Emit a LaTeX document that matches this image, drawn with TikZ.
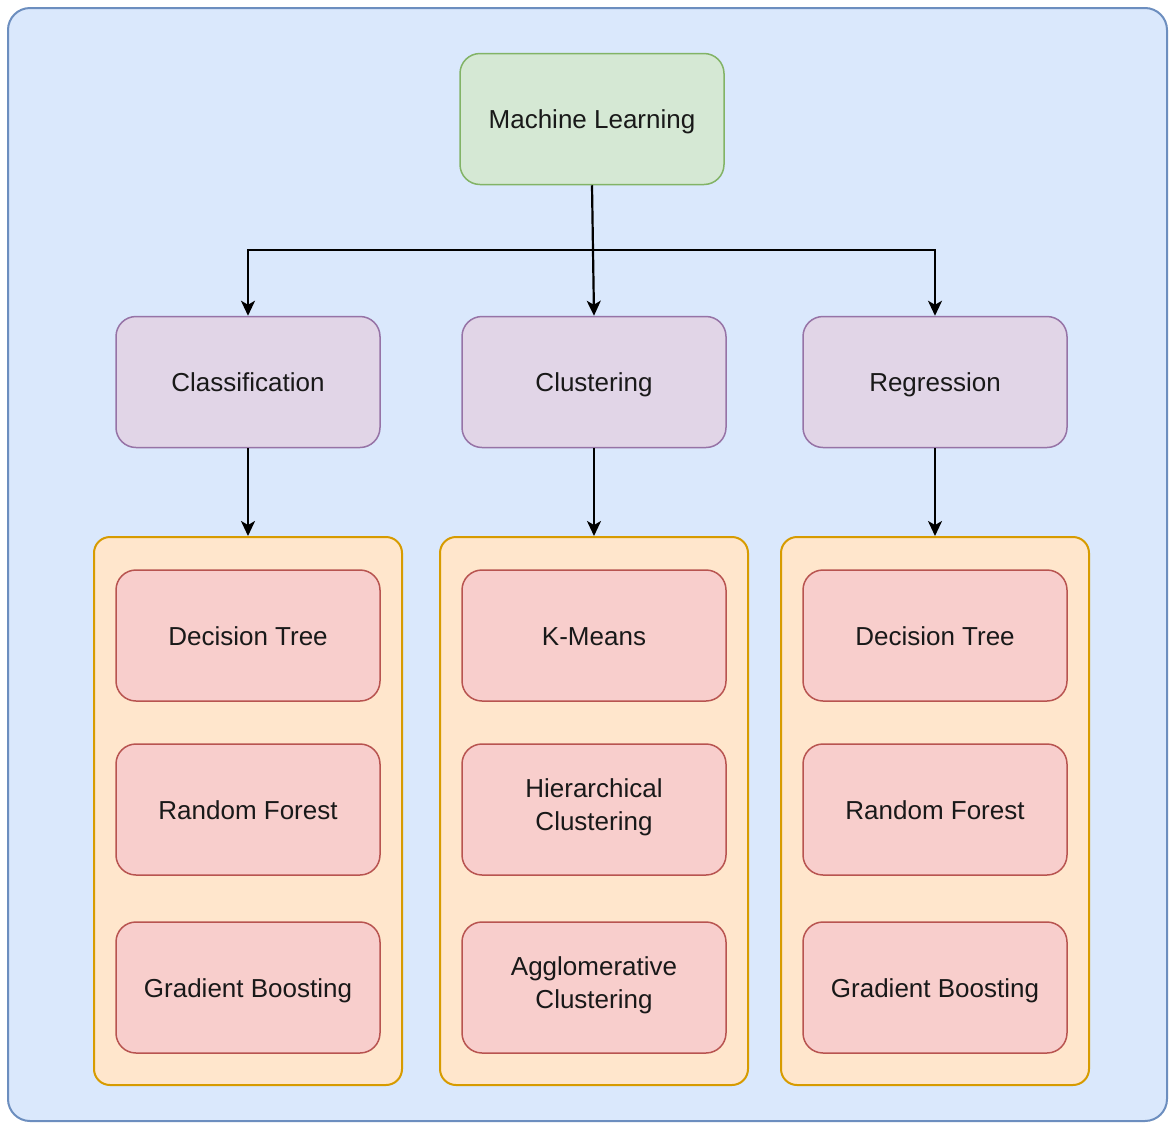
\documentclass[tikz,border=0pt]{standalone}
\usepackage{fontspec}
\setmainfont{Liberation Sans}
\usetikzlibrary{arrows.meta}
\definecolor{bgfill}{HTML}{DAE8FC}
\definecolor{bgline}{HTML}{6C8EBF}
\definecolor{grfill}{HTML}{D5E8D4}
\definecolor{grline}{HTML}{82B366}
\definecolor{pufill}{HTML}{E1D5E7}
\definecolor{puline}{HTML}{9673A6}
\definecolor{orfill}{HTML}{FFE6CC}
\definecolor{orline}{HTML}{D79B00}
\definecolor{rdfill}{HTML}{F8CECC}
\definecolor{rdline}{HTML}{B85450}
\begin{document}
\begin{tikzpicture}[x=1pt,y=-1pt,
  box/.style={draw, line width=1.5pt, rounded corners=20pt, minimum width=264pt,
    minimum height=131pt, align=center, inner sep=0pt,
    font=\fontsize{26}{33}\selectfont, text=black!90,
    execute at begin node={\rule{0pt}{29pt}}, execute at end node={\strut}},
  rootbox/.style={box, fill=grfill, draw=grline},
  catbox/.style={box, fill=pufill, draw=puline},
  algbox/.style={box, fill=rdfill, draw=rdline},
  groupbox/.style={draw=orline, fill=orfill, line width=2pt, rounded corners=16pt,
    minimum width=308pt, minimum height=548pt, inner sep=0pt},
  link/.style={line width=2.2pt, -{Stealth[length=15pt,width=14pt,inset=4pt]}}
]
\useasboundingbox (0,0) rectangle (1173,1125);
\fill[white] (0,0) rectangle (1173,1125);
\draw[draw=bgline, fill=bgfill, line width=2pt, rounded corners=22pt] (8,8) rectangle (1167,1121);

% root and categories
\node[rootbox] (ml) at (592,119) {Machine Learning};
\node[catbox] (cls) at (248,382) {Classification};
\node[catbox] (clu) at (594,382) {Clustering};
\node[catbox] (reg) at (935,382) {Regression};

% algorithm groups
\node[groupbox] (gcls) at (248,811) {};
\node[groupbox] (gclu) at (594,811) {};
\node[groupbox] (greg) at (935,811) {};

\node[algbox] (c1) at (248,635.5) {Decision Tree};
\node[algbox] (c2) at (248,809.5) {Random Forest};
\node[algbox] (c3) at (248,987.5) {Gradient Boosting};

\node[algbox] (k1) at (594,635.5) {K-Means};
\node[algbox] (k2) at (594,809.5) {Hierarchical\\Clustering};
\node[algbox] (k3) at (594,987.5) {Agglomerative\\Clustering};

\node[algbox] (r1) at (935,635.5) {Decision Tree};
\node[algbox] (r2) at (935,809.5) {Random Forest};
\node[algbox] (r3) at (935,987.5) {Gradient Boosting};

% connectors
\coordinate (split) at (592,250);
\draw[link] (ml.south) -- (clu.north);
\draw[link] (split) -| (cls.north);
\draw[link] (split) -| (reg.north);
\draw[link] (cls.south) -- (gcls.north);
\draw[link] (clu.south) -- (gclu.north);
\draw[link] (reg.south) -- (greg.north);
\end{tikzpicture}
\end{document}
